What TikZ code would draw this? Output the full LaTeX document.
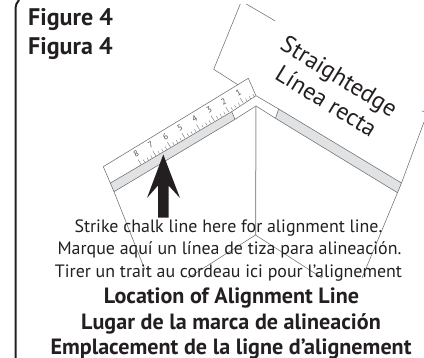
\documentclass[tikz,border=0pt]{standalone}
\usepackage{fontspec}
\setmainfont{PT Sans}
\definecolor{ink}{HTML}{231F20}
\definecolor{strip}{HTML}{E1E2E3}
\definecolor{thin}{HTML}{6D6E70}
\tikzset{
  frame/.style={line width=2pt,draw=ink},
  fine/.style={line width=.55pt,draw=thin},
  head/.style={font=\bfseries\fontsize{24}{24}\selectfont,text=ink,anchor=base west,inner sep=0pt},
  note/.style={font=\fontsize{17.9}{18}\selectfont,text=ink,inner sep=0pt,anchor=base},
  loc/.style={font=\bfseries\fontsize{22.1}{22}\selectfont,text=ink,inner sep=0pt,anchor=base},
  edgetext/.style={font=\fontsize{24}{24}\selectfont,text=ink,rotate=-31.5,inner sep=0pt,anchor=base},
  num/.style={font=\fontsize{8.5}{8.5}\selectfont,text=ink!80,rotate=30,inner sep=0pt}
}
\begin{document}
\begin{tikzpicture}[x=1pt,y=-1pt]
\useasboundingbox (0,0) rectangle (424,358);
% frame
\coordinate (fa) at (15.5,358);
\coordinate (fb) at (15.5,10);
\coordinate (fc) at (19,0);
\draw[frame] (fa) -- (fb) .. controls (15.5,5) and (17,2) .. (fc);
% straightedge
\coordinate (s1) at (240.3,4);
\coordinate (s2) at (213.7,69.3);
\coordinate (s3) at (238.3,85);
\coordinate (s4) at (246.3,4);
\coordinate (s5) at (275.3,21);
\coordinate (s6) at (424,122);
\coordinate (s7) at (362,278);
\coordinate (s8) at (422,110.7);
\coordinate (s9) at (424,112);
\draw[fine] (s1) -- (s2) -- (s3);
\draw[fine] (s4) -- (s5);
\draw[fine] (s8) -- (s9);
% strips
\coordinate (apexO) at (256,95.7);
\coordinate (apexI) at (256,106);
\coordinate (rA) at (248.3,78.3);
\coordinate (rB) at (103.3,166.7);
\coordinate (rC) at (114,191.7);
\coordinate (rD) at (145,270);
\coordinate (gL) at (110,183.3);
\coordinate (gLi) at (231.7,111.7);
\coordinate (gLj) at (235,119.3);
\coordinate (gR1) at (278.7,109);
\coordinate (gR2) at (275.5,118.3);
\coordinate (gR3) at (397.5,192.7);
\coordinate (gR4) at (401.5,183);
\fill[strip] (gL) -- (gLi) -- (gLj) -- (rC) -- cycle;
\fill[strip] (gR1) -- (gR4) -- (gR3) -- (gR2) -- cycle;
\draw[fine] (apexO) -- (rA) -- (rB) -- (rC) -- (rD);
\draw[fine] (gL) -- (gLi) -- (apexO) -- (gR1) -- (gR4);
\draw[fine] (rC) -- (gLj) -- (apexI) -- (gR2) -- (gR3);
\draw[fine] (gLi) -- (gLj);
\draw[fine] (gR1) -- (gR2);
\draw[fine] (s6) -- (gR4) -- (gR3) -- (s7);
% ticks and numbers
\foreach \i in {1,...,8}{
  \pgfmathsetmacro{\tx}{243.4-(\i-1)*14.6}
  \pgfmathsetmacro{\ty}{103.3+(\i-1)*8.76}
  \coordinate (tk) at (\tx,\ty);
  \draw[fine,line width=.4pt] (tk) -- ++(-3.1,-5.1);
  \node[num] at (\tx-5.1,\ty-10.6) {\i};
}
\foreach \i in {0,...,7}{
  \foreach \k in {1,2,3}{
    \pgfmathsetmacro{\tx}{243.4-(\i-1)*14.6-\k*3.65}
    \pgfmathsetmacro{\ty}{103.3+(\i-1)*8.76+\k*2.19}
    \coordinate (tk) at (\tx,\ty);
    \draw[fine,line width=.35pt] (tk) -- ++(-1.5,-2.6);
  }
}
% centre lines
\coordinate (cJ) at (255.5,235);
\coordinate (cL) at (188,278);
\coordinate (cR) at (322,278);
\draw[line width=1pt,draw=thin!70] (apexI) -- (cJ);
\draw[fine] (cL) -- (cJ) -- (cR);
% arrow
\fill[ink] (163.3,154.5) -- (180,198) -- (168.5,185.5) -- (168.5,217.7) -- (158,217.7) -- (158,185.5) -- (147,198) -- cycle;
% text
\node[head] (f1) at (28,26) {Figure 4};
\node[head] (f2) at (28,54.3) {Figura 4};
\node[edgetext] (e1) at (335,83.3) {Straightedge};
\node[edgetext] (e2) at (322,108) {Línea recta};
\node[note] (n1) at (228.5,233) {Strike chalk line here for alignment line.};
\node[note] (n2) at (229.5,255) {Marque aquí un línea de tiza para alineación.};
\node[note] (n3) at (228.5,277.7) {Tirer un trait au cordeau ici pour l{\char39}alignement};
\node[loc] (l1) at (231.5,304) {Location of Alignment Line};
\node[loc] (l2) at (231,330) {Lugar de la marca de alineación};
\node[loc] (l3) at (231,355) {Emplacement de la ligne d{\char39}alignement};
\end{tikzpicture}
\end{document}
